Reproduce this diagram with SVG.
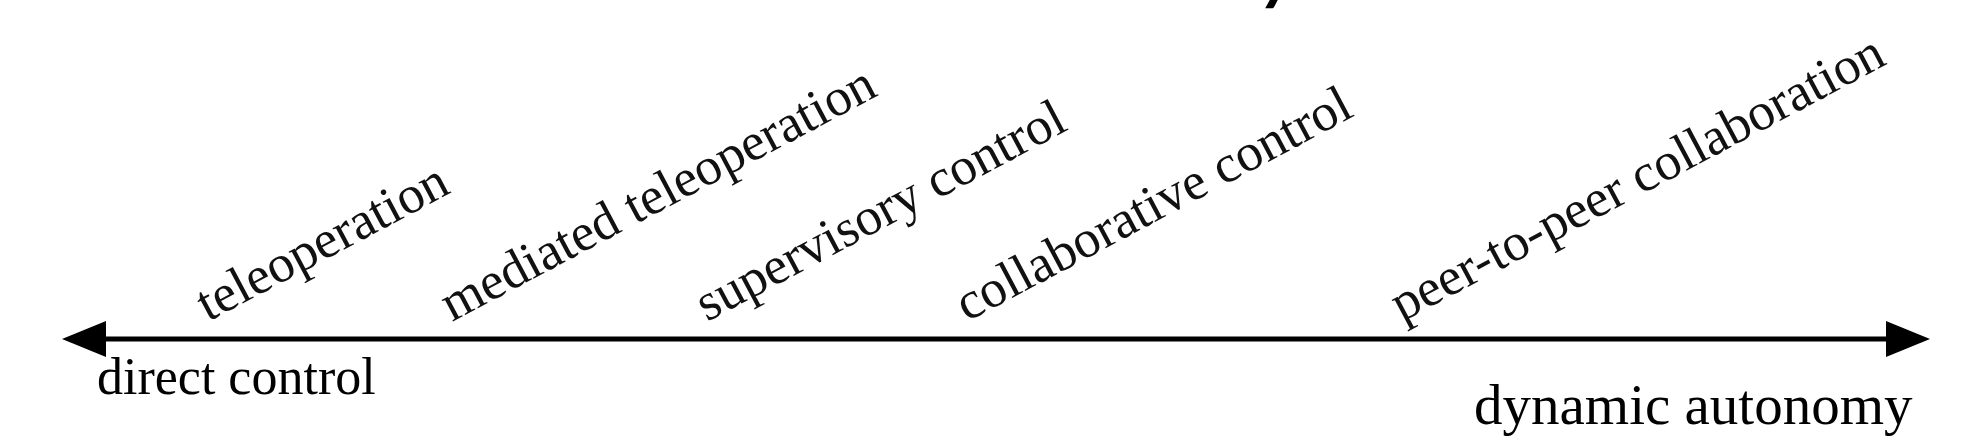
<svg xmlns="http://www.w3.org/2000/svg" width="1982" height="442" viewBox="0 0 1982 442">
<style>
.lbl{font-family:"Liberation Serif","Times New Roman",serif;font-size:53px;fill:#111;}
.end{font-family:"Liberation Serif","Times New Roman",serif;font-size:52px;fill:#000;}
.end2{font-family:"Liberation Serif","Times New Roman",serif;font-size:57px;fill:#000;}
.axis{stroke:#000;stroke-width:5;fill:none;}
.ttl{font-family:Lato,"Open Sans",sans-serif;font-size:70px;font-weight:bold;font-style:italic;fill:#000;}
</style>
<defs>
<marker id="ah" markerUnits="userSpaceOnUse" markerWidth="46" markerHeight="38" refX="1" refY="18" orient="auto-start-reverse">
<path d="M0,0 L44,18 L0,36 Z" fill="#000"/>
</marker>
</defs>
<rect width="1982" height="442" fill="#fff"/>
<g id="title-fragment"><text class="ttl" x="1262" y="-4">y</text></g>
<g id="connectors">
<line class="axis" x1="105" y1="339" x2="1887" y2="339" marker-start="url(#ah)" marker-end="url(#ah)"/>
</g>
<g id="n-teleoperation"><text class="lbl" x="208" y="322" transform="rotate(-28 208 322)">teleoperation</text></g>
<g id="n-mediated"><text class="lbl" x="452" y="322" transform="rotate(-28 452 322)">mediated teleoperation</text></g>
<g id="n-supervisory"><text class="lbl" x="707" y="322" transform="rotate(-28 707 322)">supervisory control</text></g>
<g id="n-collaborative"><text class="lbl" x="967" y="322" transform="rotate(-28 967 322)">collaborative control</text></g>
<g id="n-peer"><text class="lbl" x="1402" y="322" transform="rotate(-28 1402 322)">peer-to-peer collaboration</text></g>
<g id="n-direct"><text class="end" x="97" y="394">direct control</text></g>
<g id="n-dynamic"><text class="end2" x="1474" y="424">dynamic autonomy</text></g>
</svg>
